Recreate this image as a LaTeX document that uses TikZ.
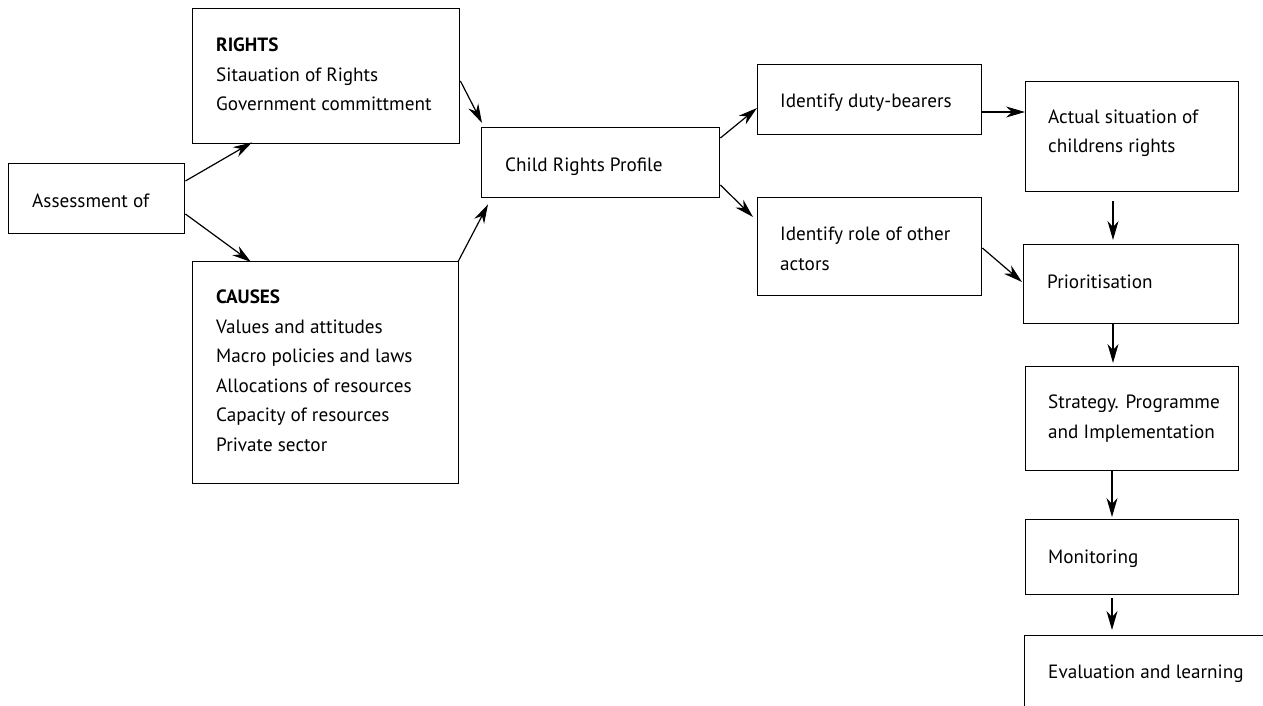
\documentclass[tikz,border=0pt]{standalone}
\usepackage{fontspec}
\setmainfont{PT Sans}
\usetikzlibrary{calc,arrows.meta}
\begin{document}
\begin{tikzpicture}[x=1pt,y=-1pt,
  box/.style={draw, line width=1.4pt, inner sep=0pt, anchor=north west},
  txt/.style={anchor=base west, inner sep=0pt, align=left, font=\fontsize{19.2}{29.5}\selectfont},
  conn/.style={line width=1.2pt, -{Stealth[length=19pt, width=11pt, inset=6pt]}}]
\useasboundingbox (0,0) rectangle (1263,706);
\clip (0,0) rectangle (1263,706);
% boxes
\node[box, minimum width=176pt, minimum height=70pt] (assess) at (8,163) {};
\node[box, minimum width=267pt, minimum height=135pt] (rights) at (192,8) {};
\node[box, minimum width=266pt, minimum height=222pt] (causes) at (192,261) {};
\node[box, minimum width=238pt, minimum height=70pt] (child) at (481,127) {};
\node[box, minimum width=224pt, minimum height=70pt] (duty) at (757,64) {};
\node[box, minimum width=224pt, minimum height=98pt] (role) at (757,197) {};
\node[box, minimum width=213pt, minimum height=110pt] (actual) at (1025,81) {};
\node[box, minimum width=215pt, minimum height=79pt] (prior) at (1023,244) {};
\node[box, minimum width=213pt, minimum height=104pt] (strat) at (1025,366) {};
\node[box, minimum width=213pt, minimum height=75pt] (monit) at (1025,519) {};
\node[box, minimum width=280pt, minimum height=120pt] (eval) at (1024,635) {};
% texts (anchor = baseline of the last line)
\node[txt] (assess-t) at (32,207) {Assessment of};
\node[txt] (rights-t) at (216,111) {\textbf{RIGHTS}\\Sitauation of Rights\\Government committment};
\node[txt] (causes-t) at (216,451) {\textbf{CAUSES}\\Values and attitudes\\Macro policies and laws\\Allocations of resources\\Capacity of resources\\Private sector};
\node[txt] (child-t) at (505,171) {Child Rights Profile};
\node[txt] (duty-t) at (780,108) {Identify duty-bearers};
\node[txt] (role-t) at (780,270) {Identify role of other\\actors};
\node[txt] (actual-t) at (1048,153) {Actual situation of\\childrens rights};
\node[txt] (prior-t) at (1047,288) {Prioritisation};
\node[txt] (strat-t) at (1048,438) {Strategy. Programme\\and Implementation};
\node[txt] (monit-t) at (1048,563) {Monitoring};
\node[txt] (eval-t) at (1048,678) {Evaluation and learning};
% connectors
\draw[conn] ($(assess.north east)+(0,18)$) -- ($(rights.south west)+(60,-2)$);
\draw[conn] ($(assess.north east)+(0,51)$) -- ($(causes.north west)+(59,1)$);
\draw[conn] ($(rights.north east)+(0,73)$) -- ($(child.north west)+(1,-4)$);
\draw[conn] ($(causes.north east)+(-1,0)$) -- ($(child.south west)+(7,6)$);
\draw[conn] ($(child.north east)+(0,11)$) -- ($(duty.north west)+(0,44)$);
\draw[conn] ($(child.north east)+(0,58)$) -- ($(role.north west)+(-4,20)$);
\draw[conn] ($(duty.north east)+(0,48)$) -- ($(actual.north west)+(0,31)$);
\draw[conn] ($(role.north east)+(0,51)$) -- ($(prior.north west)+(-1,38)$);
\draw[conn] ($(actual.south west)+(88,9)$) -- ($(prior.north west)+(90,-4)$);
\draw[conn] ($(prior.south west)+(90,0)$) -- ($(strat.north west)+(88,-3)$);
\draw[conn] ($(strat.south west)+(87,0)$) -- ($(monit.north west)+(87,-2)$);
\draw[conn] ($(monit.south west)+(87,3)$) -- ($(eval.north west)+(88,-5)$);
\end{tikzpicture}
\end{document}
